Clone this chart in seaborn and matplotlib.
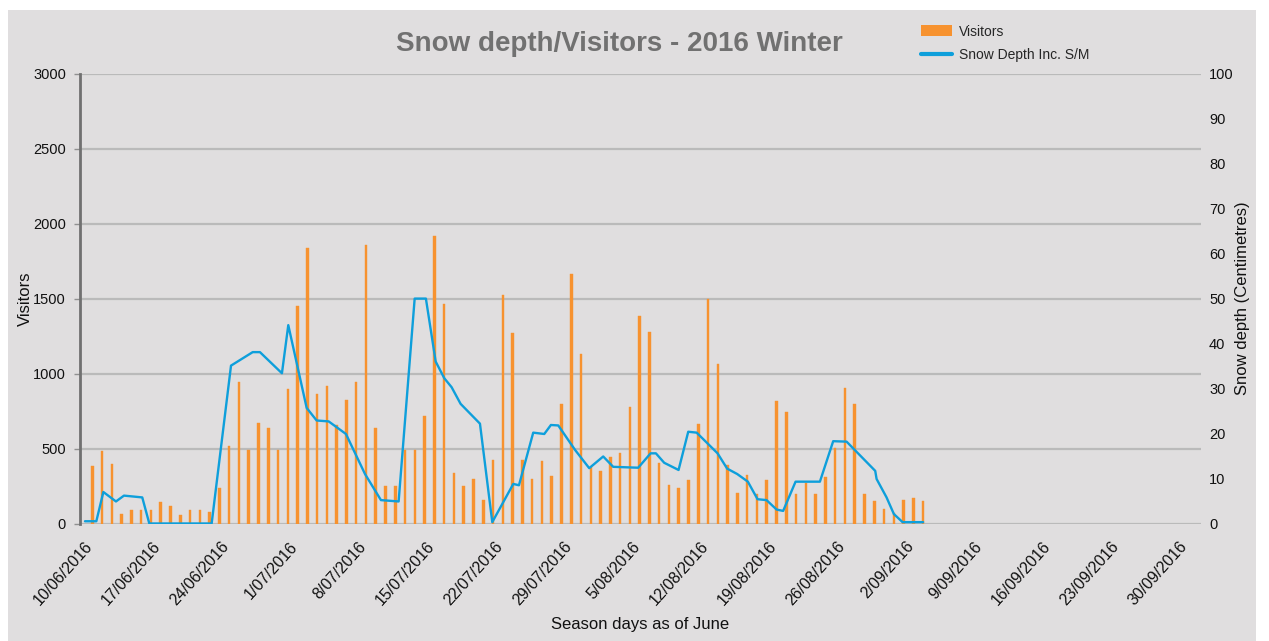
import matplotlib
matplotlib.use("Agg")
import matplotlib.pyplot as plt
import matplotlib.transforms as mtransforms
from matplotlib.patches import Rectangle, Patch
from matplotlib.lines import Line2D
import seaborn as sns

# Visitors per day, day 0 = 10/06/2016
visitors = [385, 485, 400, 65, 90, 90, 90, 145, 120, 60,
            90, 90, 75, 235, 515, 945, 490, 670, 640, 490,
            900, 1450, 1840, 865, 915, 655, 825, 945, 1855, 636,
            250, 250, 490, 490, 715, 1920, 1466, 338, 252, 298,
            159, 424, 1525, 1271, 424, 298, 419, 318, 795, 1662,
            1132, 380, 351, 444, 470, 775, 1386, 1278, 404, 258,
            238, 293, 666, 1499, 1062, 391, 205, 324, 199, 293,
            814, 742, 199, 271, 199, 307, 503, 901, 797, 199,
            152, 99, 68, 159, 168, 152]
visitor_days = list(range(len(visitors)))

# Snow depth readings (day since 10/06/2016, cm)
depth_day = [-0.75, 0.41, 1.13, 2.42, 3.24, 5.11, 5.83, 12.21, 14.19, 16.41,
             17.15, 19.40, 20.05, 21.93, 22.95, 24.18, 25.95, 27.90, 29.53, 31.34,
             32.98, 34.13, 35.13, 36.01, 36.76, 37.68, 39.66, 40.92, 43.07, 43.65,
             45.11, 46.24, 46.92, 47.67, 49.41, 50.84, 52.27, 53.29, 55.85, 57.12,
             57.66, 58.51, 59.98, 60.97, 61.83, 63.97, 64.95, 65.98, 67.07, 68.06,
             68.98, 70.01, 70.68, 71.95, 74.44, 75.80, 77.17, 80.10, 80.24, 81.26,
             82.01, 82.90, 85.00]
depth_cm = [0.5, 0.5, 7.0, 4.9, 6.2, 5.8, 0, 0, 35.1, 38.1,
            38.1, 33.4, 44.1, 25.7, 22.9, 22.7, 19.9, 11.0, 5.2, 4.9,
            50.0, 50.0, 36.0, 32.3, 30.3, 26.6, 22.2, 0.3, 8.8, 8.5,
            20.2, 19.9, 21.9, 21.8, 16.3, 12.3, 14.9, 12.6, 12.4, 15.6,
            15.6, 13.5, 11.9, 20.4, 20.2, 15.6, 12.2, 11.0, 9.3, 5.4,
            5.2, 3.1, 2.8, 9.3, 9.3, 18.3, 18.2, 11.7, 9.9, 5.8,
            2.1, 0.3, 0.3]

tick_days = list(range(0, 113, 7))
tick_labels = ["10/06/2016", "17/06/2016", "24/06/2016", "1/07/2016", "8/07/2016",
               "15/07/2016", "22/07/2016", "29/07/2016", "5/08/2016", "12/08/2016",
               "19/08/2016", "26/08/2016", "2/09/2016", "9/09/2016", "16/09/2016",
               "23/09/2016", "30/09/2016"]

ORANGE = "#F7922F"
BLUE = "#0E9FDB"
BG = "#E0DEDF"
GRID = "#BABABA"

sns.set_theme(style="white")
plt.rcParams["font.family"] = ["Liberation Sans Narrow", "Liberation Sans", "DejaVu Sans"]

fig = plt.figure(figsize=(12.69, 6.41), dpi=100, facecolor="white")
fig.patches.append(Rectangle((8 / 1269, 0), 1248 / 1269, 631 / 641,
                             transform=fig.transFigure, facecolor=BG,
                             edgecolor="none", zorder=-10))

ax = fig.add_axes([80 / 1269, 117.5 / 641, 1120.7 / 1269, 449.8 / 641])
ax.set_facecolor("none")

sns.barplot(x=visitor_days, y=visitors, native_scale=True, width=0.26,
            color=ORANGE, saturation=1, errorbar=None, ax=ax, zorder=2,
            edgecolor=ORANGE, linewidth=0.3)

ax.set_xlim(-1.26, 113.4)
ax.set_ylim(0, 3000)
ax.set_yticks(range(0, 3001, 500))
ax.yaxis.grid(True, color=GRID, linewidth=1.6)
ax.set_axisbelow(True)
for s in ["top", "right", "bottom"]:
    ax.spines[s].set_visible(False)
ax.spines["left"].set_color("#707070")
ax.spines["left"].set_linewidth(2)
ax.tick_params(axis="y", length=4, color="#909090", width=1, pad=6,
               labelsize=10.5, labelcolor="#111111")

ax.set_xticks(tick_days)
ax.set_xticklabels(tick_labels, rotation=48, ha="right", va="top",
                   rotation_mode="anchor", fontsize=11.5, color="#111111")
ax.tick_params(axis="x", length=0, pad=11)
shift = mtransforms.ScaledTranslation(-8 / 100, 0, fig.dpi_scale_trans)
for lab in ax.get_xticklabels():
    lab.set_transform(lab.get_transform() + shift)

ax.set_xlabel("Season days as of June", fontsize=12, color="#111111", labelpad=6)
ax.set_ylabel("Visitors", fontsize=12, color="#111111", labelpad=0)

ax2 = ax.twinx()
sns.lineplot(x=depth_day, y=depth_cm, color=BLUE, linewidth=1.7, ax=ax2)
ax2.set_ylim(0, 100)
ax2.set_xlim(-1.26, 113.4)
ax2.set_yticks(range(0, 101, 10))
for s in ax2.spines.values():
    s.set_visible(False)
ax2.tick_params(axis="y", length=0, pad=6, labelsize=10.5, labelcolor="#111111")
ax2.set_ylabel("Snow depth (Centimetres)", fontsize=12, color="#111111", labelpad=1)

fig.text(0.488, 0.932, "Snow depth/Visitors - 2016 Winter", ha="center", va="center",
         fontsize=20, fontweight="bold", color="#717171")

handles = [Patch(facecolor=ORANGE, edgecolor="none"),
           Line2D([0], [0], color=BLUE, linewidth=3)]
fig.legend(handles, ["Visitors", "Snow Depth Inc. S/M"],
           loc="upper left", bbox_to_anchor=(908 / 1269, 1 - 12 / 641),
           frameon=False, fontsize=10, handlelength=2.3, handleheight=0.9,
           handletextpad=0.5, labelspacing=0.7)

fig.savefig("out.png", dpi=100, facecolor="white")
